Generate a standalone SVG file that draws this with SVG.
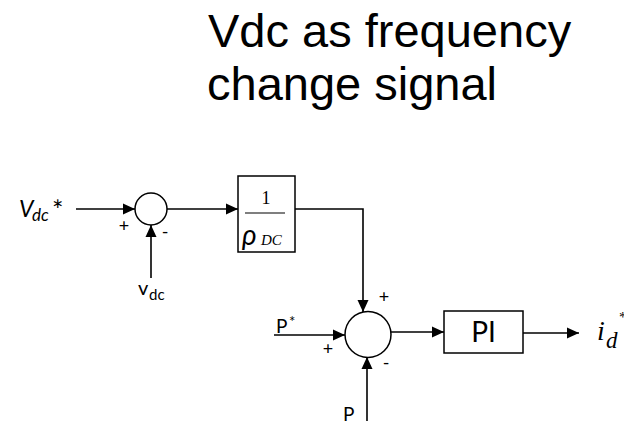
<svg xmlns="http://www.w3.org/2000/svg" width="624" height="421" viewBox="0 0 624 421">
<style>
  .title { font-family: "Liberation Sans", Arial, sans-serif; font-size: 47px; fill: #000; }
  .lbl { font-family: Lato, "Open Sans", sans-serif; fill: #000; }
  .ser { font-family: "Liberation Serif", "Times New Roman", serif; fill: #000; }
  .it { font-style: italic; }
  .sign { font-family: Lato, "Open Sans", sans-serif; font-size: 18px; fill: #000; text-anchor: middle; }
  .blk { fill: #fff; stroke: #000; stroke-width: 1.5; }
  .wire { fill: none; stroke: #000; stroke-width: 1.6; }
</style>
<defs>
  <marker id="arr" markerUnits="userSpaceOnUse" markerWidth="13" markerHeight="12" refX="12" refY="6" orient="auto">
    <path d="M0,0.5 L12,6 L0,11.5 Z" fill="#000"/>
  </marker>
</defs>
<rect width="624" height="421" fill="#fff"/>

<g id="title">
  <text class="title" x="208" y="47">Vdc as frequency</text>
  <text class="title" x="207" y="100">change signal</text>
</g>

<g id="connectors">
  <path class="wire" d="M76,209 H135" marker-end="url(#arr)"/>
  <path class="wire" d="M151,278 V225" marker-end="url(#arr)"/>
  <path class="wire" d="M167,209 H238" marker-end="url(#arr)"/>
  <path class="wire" d="M295,209 H363 V312" marker-end="url(#arr)"/>
  <path class="wire" d="M274,335 H345" marker-end="url(#arr)"/>
  <path class="wire" d="M367,421 V357" marker-end="url(#arr)"/>
  <path class="wire" d="M391,332 H444" marker-end="url(#arr)"/>
  <path class="wire" d="M523,333 H579" marker-end="url(#arr)"/>
</g>

<g id="in-vdc-ref">
  <text class="lbl it" x="19" y="217" font-size="23">V</text>
  <text class="lbl it" x="32" y="221" font-size="17">dc</text>
  <text class="lbl" x="52" y="220" font-size="27">*</text>
</g>

<g id="sum1">
  <circle class="blk" cx="151" cy="209" r="16"/>
  <text class="sign" x="124" y="232">+</text>
  <text class="sign" x="165" y="238">-</text>
</g>

<g id="in-vdc">
  <text class="lbl" x="138" y="295" font-size="20">v</text>
  <text class="lbl" x="149" y="300" font-size="15">dc</text>
</g>

<g id="gain">
  <rect class="blk" x="238" y="176" width="57" height="76"/>
  <text class="ser" x="266" y="204" font-size="18" text-anchor="middle">1</text>
  <line x1="245" y1="213" x2="285" y2="213" stroke="#000" stroke-width="1.2"/>
  <text class="lbl it" x="242" y="245" font-size="28">ρ</text>
  <text class="ser it" x="261" y="245" font-size="15">DC</text>
</g>

<g id="sum2">
  <circle class="blk" cx="368" cy="334.5" r="23"/>
  <text class="sign" x="384" y="303">+</text>
  <text class="sign" x="328" y="355">+</text>
  <text class="sign" x="386" y="369">-</text>
</g>

<g id="in-pref">
  <text class="lbl" x="276" y="333" font-size="19">P</text>
  <text class="lbl" x="289" y="327" font-size="15">*</text>
</g>

<g id="in-p">
  <text class="lbl" x="343" y="421" font-size="19">P</text>
</g>

<g id="pi">
  <rect class="blk" x="444" y="311" width="79" height="42"/>
  <text class="lbl" x="483.5" y="342" font-size="28" text-anchor="middle">PI</text>
</g>

<g id="out-id">
  <text class="ser it" x="597" y="340" font-size="28">i</text>
  <text class="ser it" x="606" y="348" font-size="23">d</text>
  <text class="ser" x="619" y="322" font-size="15">*</text>
</g>
</svg>
